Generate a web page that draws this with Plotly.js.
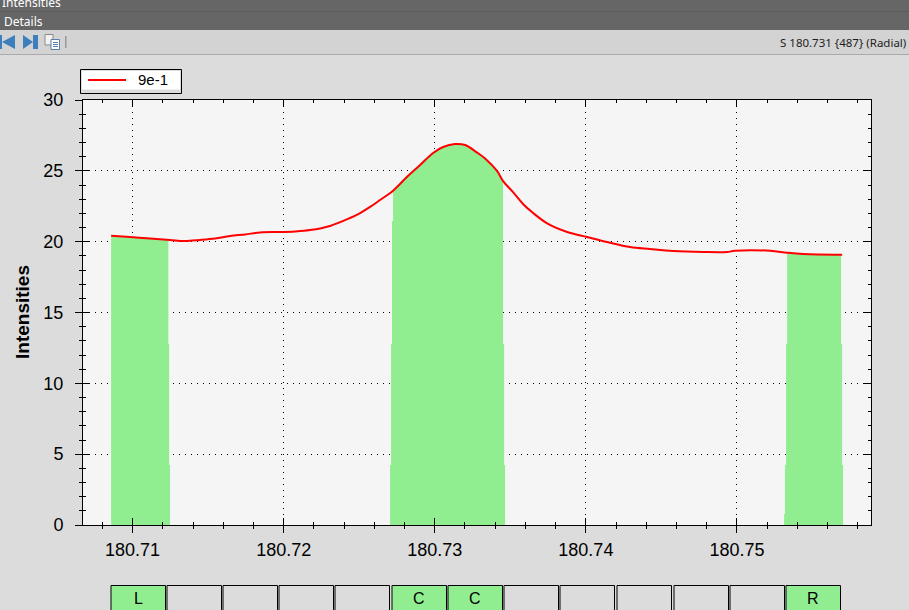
<!DOCTYPE html>
<html>
<head>
<meta charset="utf-8">
<script src="https://cdn.plot.ly/plotly-3.0.1.min.js"></script>
<style>html,body{margin:0;padding:0;background:#dcdcdc;overflow:hidden}#chart{width:909px;height:610px}</style>
</head>
<body>
<div id="chart"></div>
<script>
// Chart data
const seriesName = '9e-1';
const curveX = [180.70858,180.70983,180.71116,180.71248,180.71347,180.71447,180.71546,180.71645,180.71745,180.71844,180.71976,180.72075,180.72175,180.72307,180.72439,180.72506,180.72572,180.72638,180.72724,180.72817,180.72903,180.72989,180.73055,180.73134,180.73201,180.7328,180.73333,180.73412,180.73452,180.73518,180.73584,180.73651,180.7375,180.73876,180.74008,180.7414,180.74293,180.74425,180.74577,180.74776,180.74934,180.74987,180.75219,180.75332,180.75437,180.75696];
const curveY = [20.42,20.33,20.22,20.12,20.05,20.12,20.22,20.40,20.51,20.65,20.68,20.72,20.82,21.11,21.67,22.02,22.45,22.94,23.6,24.58,25.41,26.26,26.68,26.89,26.82,26.29,25.87,24.99,24.28,23.5,22.66,22.02,21.25,20.68,20.33,19.98,19.62,19.48,19.34,19.27,19.27,19.36,19.36,19.22,19.13,19.08];
const bandLeftX = [180.70858,180.71248,180.71248,180.71242,180.71242,180.71237,180.71237,180.71116,180.70983,180.70858];
const bandLeftY = [0,0,4.24,4.24,12.78,12.78,20.14,20.22,20.33,20.42];
const bandMidX = [180.72704,180.73465,180.73465,180.73459,180.73459,180.73452,180.73452,180.73412,180.73333,180.7328,180.73201,180.73134,180.73055,180.72989,180.72903,180.72817,180.72724,180.72724,180.72717,180.72717,180.72711,180.72711,180.72704];
const bandMidY = [0,0,4.24,4.24,12.78,12.78,24.28,24.99,25.87,26.29,26.82,26.89,26.68,26.26,25.41,24.58,23.6,21.46,21.46,12.78,12.78,4.24,4.24];
const bandRightX = [180.75312,180.75702,180.75702,180.75696,180.75696,180.75689,180.75689,180.75437,180.75332,180.75332,180.75325,180.75325,180.75318,180.75318,180.75312];
const bandRightY = [0,0,4.24,4.24,12.78,12.78,19.08,19.13,19.22,12.78,12.78,4.24,4.24,0.78,0.78];
const xTickVals = [180.71,180.72,180.73,180.74,180.75];
const xTickText = ['180.71','180.72','180.73','180.74','180.75'];
const yTickVals = [0,5,10,15,20,25,30];
const yAxisName = 'Intensities';
const buttonLabels = ['L','','','','','C','C','','','','','','R'];
const buttonStarts = [111,167,223,279,335,392,448,504,560,617,674,730,786];
const statusText = 'S 180.731 {487} (Radial)';

// Layout helpers
const L = 83, T = 100, W = 788, H = 425;
const X = p => (p - L) / W;
const Y = p => (T + H - p) / H;
const xRange = [180.70672, 180.75887];
const yRange = [0, 30];
const GREEN = '#90EE90', FONT = '"Liberation Sans", Arial, sans-serif';
const UI = '"Noto Sans", sans-serif';

const rect = (x0, y0, x1, y1, fill, line, lw) => ({
  type: 'rect', xref: 'paper', yref: 'paper', layer: 'above',
  x0: X(x0), x1: X(x1), y0: Y(y1), y1: Y(y0),
  fillcolor: fill, line: {color: line || fill, width: lw === undefined ? 0 : lw}
});
const poly = (pts, fill) => ({
  type: 'path', xref: 'paper', yref: 'paper', layer: 'above', fillcolor: fill, line: {width: 0},
  path: 'M' + pts.map(p => X(p[0]) + ',' + Y(p[1])).join('L') + 'Z'
});
const label = (text, x, y, size, color, anchor, family) => ({
  text, xref: 'paper', yref: 'paper', x: X(x), y: Y(y), xanchor: anchor || 'center', yanchor: 'middle',
  showarrow: false, font: {size, color, family: family || FONT}, borderpad: 0
});

const shapes = [
  rect(0, 0, 909, 30, '#666666'),
  rect(0, 11, 909, 12, '#5c5c5c'),
  rect(0, 30, 909, 54, '#d3d3d3'),
  rect(0, 54, 909, 55, '#aaaaae'),
  // toolbar icons
  rect(0, 35, 2, 49, '#3d7ebd'),
  poly([[15, 35], [15, 49], [2, 42]], '#3d7ebd'),
  poly([[23, 35], [23, 49], [33, 42]], '#3d7ebd'),
  rect(33, 35, 38, 49, '#3d7ebd'),
  rect(45, 34.5, 53, 45, '#f2f2f2', '#8a8a8a', 1),
  rect(51, 39.5, 59.5, 49.5, '#ffffff', '#5a7fa8', 1),
  rect(53, 42, 58, 43, '#5a7fa8'),
  rect(53, 44, 58, 45, '#5a7fa8'),
  rect(53, 46, 58, 47, '#5a7fa8'),
  rect(65, 36, 66.5, 48, '#9a9a9a'),
  // legend box
  rect(80.5, 69.5, 181.5, 93.5, '#dcdcdc', '#000000', 1),
  rect(82, 71, 180, 89.5, '#ffffff'),
  rect(88, 79, 126, 81, '#ff0000')
];
buttonStarts.forEach((s, i) => {
  shapes.push(rect(s, 585.5, s + 54.5, 620, buttonLabels[i] ? GREEN : '#dcdcdc', '#000000', 1));
});

const annotations = [
  label('Intensities', 1, 2, 12, '#ffffff', 'left', UI),
  label('Details', 3, 21, 12, '#ffffff', 'left', UI),
  label(statusText, 907, 42, 11.5, '#1e1e1e', 'right', UI),
  label(seriesName, 137, 80, 15, '#000000', 'left'),
  Object.assign(label(yAxisName, 22, 312, 19, '#000000'), {textangle: -90, font: {size: 19, color: '#000', family: FONT, weight: 'bold'}})
];
buttonLabels.forEach((t, i) => {
  if (t) annotations.push(label(t, buttonStarts[i] + 27, 598.5, 16, '#000000'));
});

const traces = [
  {x: bandLeftX, y: bandLeftY, mode: 'lines', fill: 'toself', fillcolor: GREEN, line: {width: 0, color: GREEN}, showlegend: false, hoverinfo: 'skip'},
  {x: bandMidX, y: bandMidY, mode: 'lines', fill: 'toself', fillcolor: GREEN, line: {width: 0, color: GREEN}, showlegend: false, hoverinfo: 'skip'},
  {x: bandRightX, y: bandRightY, mode: 'lines', fill: 'toself', fillcolor: GREEN, line: {width: 0, color: GREEN}, showlegend: false, hoverinfo: 'skip'},
  {x: curveX, y: curveY, name: seriesName, mode: 'lines', line: {color: '#ff0000', width: 2, shape: 'spline', smoothing: 1}, showlegend: false},
  {x: [null], y: [null], xaxis: 'x2', yaxis: 'y2', showlegend: false, hoverinfo: 'skip'},
  {x: [null], y: [null], xaxis: 'x3', yaxis: 'y3', showlegend: false, hoverinfo: 'skip'}
];

const xBase = {range: xRange, tickmode: 'array', tickvals: xTickVals, ticktext: xTickText, tickcolor: '#000', tickwidth: 1, ticklen: 7,
  minor: {ticks: 'inside', ticklen: 3, dtick: 0.002, tick0: 180.71, tickcolor: '#000', tickwidth: 1, showgrid: false},
  showline: true, linecolor: '#000', linewidth: 1, zeroline: false, showgrid: false};
const yBase = {range: yRange, tickmode: 'array', tickvals: yTickVals, tickcolor: '#000', tickwidth: 1, ticklen: 7,
  minor: {ticks: 'inside', ticklen: 3, dtick: 1, tick0: 0, tickcolor: '#000', tickwidth: 1, showgrid: false},
  showline: true, linecolor: '#000', linewidth: 1, zeroline: false, showgrid: false};
const out = a => Object.assign({}, a, {ticks: 'outside', minor: Object.assign({}, a.minor, {ticks: 'outside'})});
const ins = a => Object.assign({}, a, {ticks: 'inside', showticklabels: false});

const layout = {
  width: 909, height: 610,
  margin: {l: L, r: 909 - L - W, t: T, b: 610 - T - H, pad: 0},
  paper_bgcolor: '#dcdcdc', plot_bgcolor: '#f5f5f5',
  font: {family: FONT, color: '#000'},
  showlegend: false,
  xaxis: Object.assign(out(xBase), {showgrid: true, gridcolor: '#000', gridwidth: 1, griddash: '1px,5px',
    tickfont: {size: 18, color: '#000', family: FONT}, ticklabelstandoff: 1}),
  yaxis: Object.assign(out(yBase), {showgrid: true, gridcolor: '#000', gridwidth: 1, griddash: '1px,5px',
    tickfont: {size: 18, color: '#000', family: FONT}, ticklabelstandoff: 8}),
  xaxis2: Object.assign(ins(xBase), {overlaying: 'x', anchor: 'y2', side: 'bottom'}),
  yaxis2: Object.assign(ins(yBase), {overlaying: 'y', anchor: 'x2', side: 'left'}),
  xaxis3: Object.assign(ins(xBase), {overlaying: 'x', anchor: 'y3', side: 'top'}),
  yaxis3: Object.assign(ins(yBase), {overlaying: 'y', anchor: 'x3', side: 'right'}),
  shapes, annotations
};
Plotly.newPlot('chart', traces, layout, {displayModeBar: false, responsive: false});
</script>
</body>
</html>
